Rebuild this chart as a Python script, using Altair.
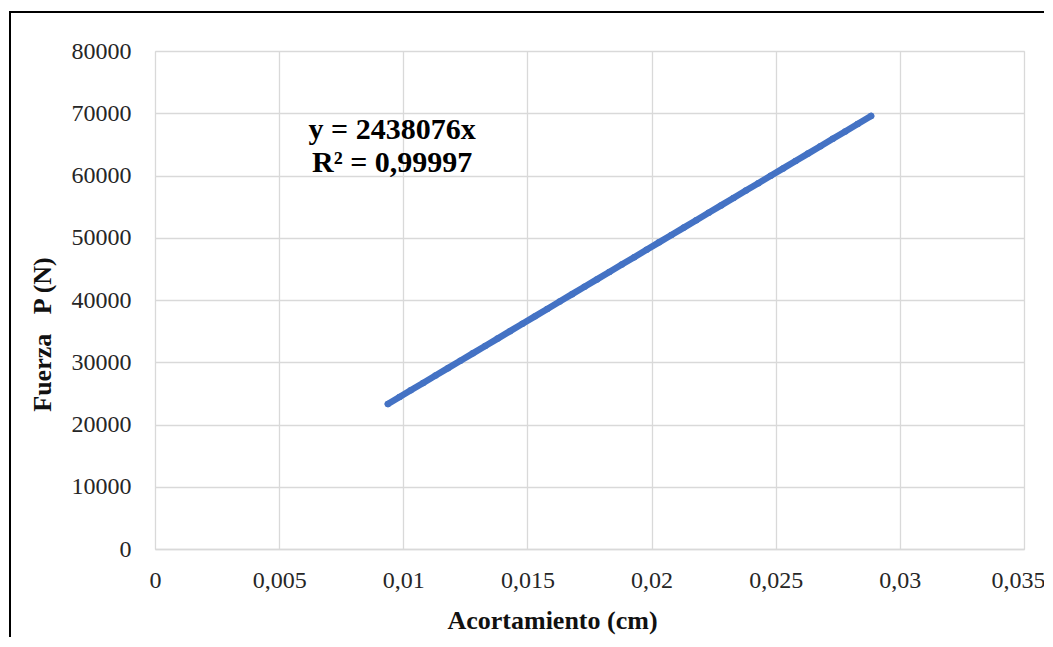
import altair as alt
import pandas as pd

# Acortamiento (cm)
acortamiento = [0.00938, 0.00985, 0.0103, 0.0108, 0.0113, 0.0118, 0.0123, 0.0128,
                0.0133, 0.0138, 0.0143, 0.0148, 0.0153, 0.0158, 0.0163, 0.0168,
                0.0173, 0.0178, 0.0183, 0.0188, 0.0193, 0.0198, 0.0203, 0.0208,
                0.0213, 0.0218, 0.0223, 0.0228, 0.0233, 0.0238, 0.0243, 0.0248,
                0.0253, 0.0258, 0.0263, 0.0268, 0.0273, 0.0278, 0.0283, 0.02884]
# Fuerza P (N)
fuerza = [23300, 24420, 25490, 26670, 27860, 29050, 30240, 31430,
          32620, 33800, 35000, 36180, 37370, 38560, 39750, 40940,
          42130, 43310, 44500, 45690, 46880, 48070, 49260, 50440,
          51630, 52820, 54010, 55200, 56390, 57580, 58760, 59950,
          61140, 62330, 63520, 64710, 65900, 67080, 68270, 69560]

x_ticks = [0, 0.005, 0.01, 0.015, 0.02, 0.025, 0.03, 0.035]
y_ticks = [0, 10000, 20000, 30000, 40000, 50000, 60000, 70000, 80000]

eq_lines = ["y = 2438076x", "R² = 0,99997"]
eq_x = [0.00955, 0.00955]
eq_y = [67300, 62000]

df = pd.DataFrame({"x": acortamiento, "y": fuerza})
eq_df = pd.DataFrame({"t": eq_lines, "x": eq_x, "y": eq_y})

FONT = "Liberation Serif"
BLUE = "#4472C4"
GRID = "#d9d9d9"

xscale = alt.Scale(domain=[0, 0.035], nice=False, zero=True)
yscale = alt.Scale(domain=[0, 80000], nice=False)

xenc = alt.X("x:Q", scale=xscale,
             axis=alt.Axis(values=x_ticks, title="Acortamiento (cm)",
                           labelExpr="replace(toString(datum.value), '.', ',')",
                           grid=True, gridColor=GRID, gridWidth=1.3,
                           domainColor=GRID, domainWidth=1.3, ticks=False,
                           labelFont=FONT, labelFontSize=24, labelColor="#262626",
                           labelPadding=19, labelFlush=False, labelOverlap=False,
                           labelOffset={"condition": {"test": "datum.value >= 0.034", "value": -6}, "value": 0},
                           titleFont=FONT, titleFontSize=26, titleFontWeight="bold",
                           titleColor="#111111", titleX=397, titleY=71,
                           titleAlign="center", titleBaseline="middle", titleAnchor="start"))
yenc = alt.Y("y:Q", scale=yscale,
             axis=alt.Axis(values=y_ticks, title="Fuerza\u00a0\u00a0\u00a0P (N)",
                           labelExpr="toString(datum.value)",
                           grid=True, gridColor=GRID, gridWidth=1.3,
                           domain=False, ticks=False,
                           labelFont=FONT, labelFontSize=24, labelColor="#262626",
                           labelPadding=24, labelOverlap=False,
                           titleFont=FONT, titleFontSize=26, titleFontWeight="bold",
                           titleColor="#111111", titleX=-113, titleY=283, titleAngle=270,
                           titleAlign="center", titleBaseline="middle", titleAnchor="start"))

line = alt.Chart(df).mark_line(color=BLUE, strokeWidth=6.5, strokeCap="round").encode(x=xenc, y=yenc)
pts = alt.Chart(df).mark_circle(color=BLUE, size=42, opacity=1).encode(x="x:Q", y="y:Q")

eq = alt.Chart(eq_df).mark_text(font=FONT, fontSize=30, fontWeight="bold",
                                color="#000000", align="center", baseline="middle").encode(
    x="x:Q", y="y:Q", text="t:N")

frame = alt.Chart(pd.DataFrame({"a": [0]})).mark_rect(
    fill=None, stroke="#000000", strokeWidth=2, clip=False).encode(
    x=alt.value(-145), x2=alt.value(960), y=alt.value(-39), y2=alt.value(700))

chart = alt.layer(frame, line, pts, eq).properties(
    width=869, height=498,
    autosize=alt.AutoSizeParams(type="none"),
    padding={"left": 147, "top": 43, "right": 20, "bottom": 88},
).configure_view(stroke=None).configure(background="white")

chart.save("out.html", embed_options={"renderer": "svg", "actions": False})
